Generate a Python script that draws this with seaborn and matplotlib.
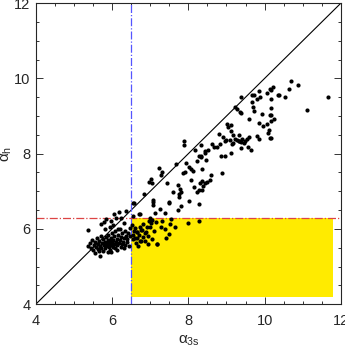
import numpy as np
import pandas as pd
import matplotlib
matplotlib.use("Agg")
import matplotlib.pyplot as plt
import seaborn as sns
from matplotlib.ticker import MultipleLocator

# values
alpha_3s = [
    5.36, 5.36, 5.42, 5.45, 5.47, 5.50, 5.52, 5.55, 5.56, 5.58, 5.60, 5.62, 5.63, 5.65, 5.66,
    5.68, 5.68, 5.70, 5.70, 5.72, 5.73, 5.75, 5.76, 5.78, 5.80, 5.80, 5.82, 5.83, 5.85, 5.86,
    5.88, 5.88, 5.90, 5.91, 5.92, 5.94, 5.94, 5.95, 5.96, 5.98, 5.98, 6.00, 6.00, 6.02, 6.03,
    6.03, 6.05, 6.06, 6.08, 6.08, 6.10, 6.12, 6.12, 6.14, 6.15, 6.16, 6.18, 6.20, 6.20, 6.22,
    6.24, 6.25, 6.27, 6.28, 6.30, 6.32, 6.33, 6.35, 6.36, 6.38, 6.40, 6.42, 6.44, 6.46, 6.48,
    5.98, 6.10, 6.24, 6.36, 6.05, 5.85, 6.30, 5.78, 6.18,
    6.54, 6.55, 6.59, 6.61, 6.66, 6.66, 6.75, 6.76, 6.82, 6.85, 6.87, 6.89, 6.97, 6.99, 7.03,
    7.04, 7.04, 7.18, 7.27, 7.38, 7.48, 7.52, 7.55, 7.99, 8.27, 6.52, 6.58, 6.62, 6.70, 6.72,
    6.80, 6.92, 6.95, 7.10, 7.15, 7.30, 7.42, 6.68, 6.95, 7.65, 6.64, 6.78, 6.99, 7.17, 6.73,
    6.55, 6.57, 6.70, 6.73, 7.06, 7.12, 7.25, 7.38, 7.48, 7.74, 7.80, 8.29, 6.55,
    6.83, 6.97, 7.01, 7.04, 7.24, 7.27, 7.30, 7.45, 7.67, 7.73, 7.78, 7.81, 7.75, 7.76, 7.60,
    7.85, 7.92, 7.94, 8.01, 8.06, 8.08, 8.13, 8.15, 8.30, 8.37, 8.27, 8.23, 8.02, 7.06, 7.88,
    7.88, 8.18, 8.22, 8.27, 8.32, 8.43, 7.08, 7.50, 8.36, 8.39, 8.36, 8.43, 8.48, 8.57, 8.60,
    8.88, 8.46, 8.32,
    8.34, 8.43, 8.51, 8.62, 8.67, 8.76, 8.80, 8.83, 8.85, 8.92, 8.97, 8.97, 9.00, 9.09, 9.11,
    9.11, 9.14, 9.18, 9.18, 9.22, 9.27, 9.32, 9.34, 9.34, 9.39, 9.39, 9.41, 9.46, 9.48, 9.53,
    9.56, 9.58, 9.63, 9.79, 9.86, 10.09, 10.14, 10.16, 9.02, 9.11, 9.04,
    9.23, 9.27, 9.35, 9.39, 9.37, 9.58, 9.66, 9.67, 9.70, 9.72, 9.72, 9.81, 9.85, 9.86, 9.88,
    9.93, 9.95, 10.05, 10.05, 10.11, 10.14, 10.14, 10.16, 10.16, 10.18, 10.18, 10.18, 10.23,
    10.25, 10.35, 10.37, 10.54, 10.63, 10.69, 10.88, 11.10, 11.65,
]
alpha_h = [
    5.54, 5.97, 5.62, 5.48, 5.70, 5.44, 5.58, 5.66, 5.35, 5.52, 5.75, 5.46, 5.60, 5.40, 5.68,
    5.28, 5.55, 6.13, 5.80, 5.50, 5.63, 5.72, 5.42, 5.58, 5.99, 5.66, 5.48, 5.78, 5.55, 5.62,
    5.70, 5.38, 5.85, 5.52, 5.60, 6.06, 5.67, 5.45, 5.75, 5.38, 5.58, 5.90, 5.64, 5.52, 6.11,
    5.70, 5.80, 5.60, 5.48, 5.95, 5.66, 5.45, 5.74, 5.56, 5.85, 6.00, 5.62, 6.00, 5.70, 5.52,
    5.78, 5.60, 5.88, 5.66, 5.48, 5.75, 5.95, 5.58, 5.82, 5.65, 5.72, 5.90, 5.55, 5.80, 6.02,
    6.20, 6.30, 6.29, 6.47, 6.40, 6.25, 6.15, 6.18, 6.45,
    5.84, 5.72, 5.77, 6.02, 5.93, 5.77, 5.68, 5.97, 6.13, 5.90, 5.68, 5.93, 6.20, 6.29, 6.16,
    6.23, 5.72, 5.61, 6.06, 6.00, 5.86, 6.13, 6.25, 6.15, 6.22, 6.10, 5.95, 5.62, 5.85, 6.05,
    5.78, 6.05, 5.82, 5.95, 6.18, 6.20, 5.75, 5.55, 5.60, 6.05, 5.91, 5.97, 6.06, 5.61, 5.68,
    6.34, 6.69, 6.39, 6.39, 6.64, 6.41, 6.52, 6.41, 6.68, 6.50, 6.61, 6.66, 6.68,
    6.93, 7.24, 7.33, 7.23, 7.62, 7.44, 7.50, 7.21, 7.72, 7.16, 7.05, 6.98, 6.93, 6.85, 6.98,
    7.49, 7.51, 7.76, 7.65, 7.58, 7.30, 7.53, 7.12, 7.21, 7.26, 7.03, 6.98, 6.75, 6.71, 8.33,
    8.24, 8.11, 7.81, 7.94, 7.90, 8.01, 6.77, 6.71, 7.60, 7.14, 7.03, 7.21, 7.24, 7.30, 7.44,
    7.48, 7.83, 7.95,
    8.24, 8.08, 8.11, 8.26, 8.17, 8.18, 8.52, 8.26, 7.94, 8.43, 8.33, 7.95, 8.36, 8.36, 8.03,
    8.59, 8.26, 8.49, 8.29, 8.40, 8.36, 8.33, 8.34, 8.49, 8.31, 8.15, 8.38, 8.29, 8.34, 8.40,
    8.17, 8.45, 8.10, 8.47, 8.38, 8.54, 8.41, 8.41, 8.80, 8.77, 8.70,
    9.23, 9.18, 9.11, 9.09, 9.50, 8.91, 9.55, 9.36, 9.25, 9.14, 9.57, 9.44, 8.81, 9.67, 9.51,
    9.05, 8.73, 9.60, 8.79, 8.63, 9.71, 9.02, 9.69, 9.21, 9.46, 8.87, 9.03, 9.76,
    8.93, 9.57, 9.57, 9.51, 9.71, 9.92, 9.83, 9.16, 9.50,
]

x_cut = 6.5
y_cut = 6.3
box_x = [6.5, 11.8]
box_y = [4.18, 6.3]
ax_range = [4, 12]

df = pd.DataFrame({"a3s": alpha_3s, "ah": alpha_h})

sns.set_style("ticks")
plt.rcParams["font.family"] = ["Liberation Sans", "DejaVu Sans"]
plt.rcParams["mathtext.fontset"] = "custom"
plt.rcParams["mathtext.rm"] = "Liberation Sans"
plt.rcParams["mathtext.it"] = "Liberation Sans"

fig = plt.figure(figsize=(3.45, 3.52), dpi=100)
ax = fig.add_axes([0.104, 0.136, 0.884, 0.855])

ax.fill_between(box_x, box_y[0], box_y[1], color="#FFEB00", lw=0, zorder=0)
ax.plot(ax_range, ax_range, color="black", lw=0.8, zorder=1)
ax.axvline(x_cut, color="#5555ff", lw=0.9, ls="-.", zorder=1)
ax.axhline(y_cut, color="#dd4444", lw=0.9, ls="-.", zorder=1)

sns.scatterplot(data=df, x="a3s", y="ah", ax=ax, color="black", s=9,
                linewidth=0, zorder=2, legend=False)

ax.set_xlim(ax_range)
ax.set_ylim(ax_range)
ax.xaxis.set_major_locator(MultipleLocator(2))
ax.yaxis.set_major_locator(MultipleLocator(2))
ax.xaxis.set_minor_locator(MultipleLocator(0.5))
ax.yaxis.set_minor_locator(MultipleLocator(0.5))
ax.tick_params(which="both", direction="in", top=True, right=True,
               width=0.7, color="#333333", labelsize=10.5)
ax.tick_params(which="major", length=5)
ax.tick_params(which="minor", length=2.5)
ax.tick_params(axis="x", which="major", pad=7)
ax.tick_params(axis="y", which="major", pad=4)
for sp in ax.spines.values():
    sp.set_linewidth(0.8)

ax.set_xlabel(r"$\alpha_{\rm 3s}$", fontsize=11, labelpad=4)
ax.set_ylabel(r"$\alpha_{\rm h}$", fontsize=11)
ax.yaxis.set_label_coords(-0.072, 0.5)

fig.savefig("out.png", dpi=100)
